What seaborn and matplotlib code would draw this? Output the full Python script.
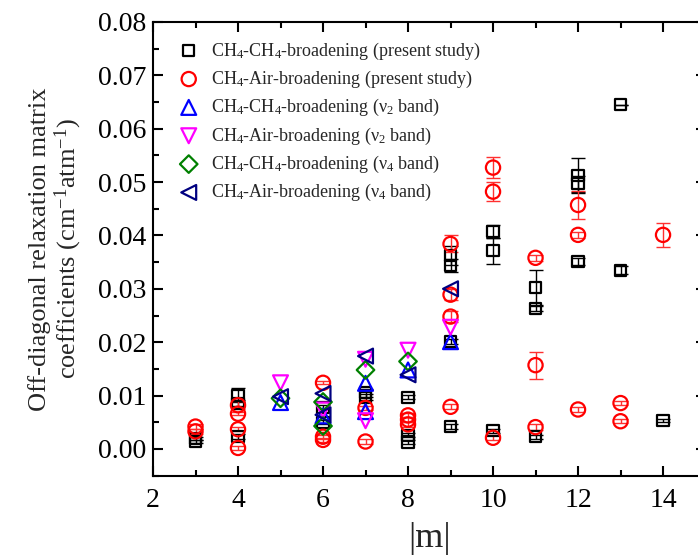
import matplotlib
matplotlib.use("Agg")
import matplotlib.pyplot as plt
import seaborn as sns
import numpy as np
import pandas as pd

# CH4-CH4 broadening, present study
self_m = [3, 3, 4, 4, 4, 6, 6, 7, 7, 8, 8, 8, 9, 9, 9, 9, 10, 10, 10, 11, 11, 11, 12, 12, 12, 13, 13, 14]
self_w = [0.0020, 0.0014, 0.0101, 0.0086, 0.0024, 0.0078, 0.0050, 0.0105, 0.0097,
          0.0097, 0.0026, 0.0013, 0.0362, 0.0343, 0.0201, 0.0042, 0.0407, 0.0371,
          0.0034, 0.0302, 0.0263, 0.0023, 0.0512, 0.0497, 0.0351, 0.0645, 0.0335, 0.0054]
self_err = [0.0003, 0.0003, 0.0013, 0.0006, 0.0005, 0.0004, 0.0004, 0.0008, 0.0006,
            0.0004, 0.0004, 0.0004, 0.0018, 0.0012, 0.0005, 0.0005, 0.0012, 0.0024,
            0.0004, 0.0033, 0.0005, 0.0004, 0.0033, 0.0015, 0.0006, 0.0000, 0.0008, 0.0003]

# CH4-Air broadening, present study
air_m = [3, 3, 4, 4, 4, 4, 6, 6, 6, 7, 7, 8, 8, 8, 9, 9, 9, 9, 10, 10, 10, 11, 11, 11, 12, 12, 12, 13, 13, 14]
air_w = [0.0042, 0.0033, 0.0082, 0.0066, 0.0037, 0.0002, 0.0124, 0.0023, 0.0017,
         0.0077, 0.0014, 0.0063, 0.0055, 0.0046, 0.0384, 0.0289, 0.0248, 0.0079,
         0.0527, 0.0482, 0.0021, 0.0358, 0.0157, 0.0041, 0.0457, 0.0401, 0.0074,
         0.0086, 0.0052, 0.0401]
air_err = [0.0004, 0.0004, 0.0008, 0.0003, 0.0004, 0.0004, 0.0003, 0.0004, 0.0004,
           0.0004, 0.0004, 0.0004, 0.0004, 0.0004, 0.0016, 0.0010, 0.0010, 0.0005,
           0.0020, 0.0018, 0.0005, 0.0005, 0.0025, 0.0005, 0.0027, 0.0005, 0.0004,
           0.0004, 0.0004, 0.0022]

# Literature values: nu2 and nu4 bands
v2_self_m = [5, 6, 7, 7, 8, 9]
v2_self_w = [0.0087, 0.0062, 0.0123, 0.0070, 0.0148, 0.0201]
v2_air_m = [5, 6, 7, 7, 8, 9]
v2_air_w = [0.0124, 0.0073, 0.0168, 0.0053, 0.0185, 0.0228]
v4_self_m = [5, 6, 6, 7, 8]
v4_self_w = [0.0095, 0.0088, 0.0043, 0.0148, 0.0164]
v4_air_m = [5, 6, 6, 7, 8, 9]
v4_air_w = [0.0098, 0.0104, 0.0064, 0.0174, 0.0139, 0.0300]

labels = [
    r"CH$_4$-CH$_4$-broadening (present study)",
    r"CH$_4$-Air-broadening (present study)",
    r"CH$_4$-CH$_4$-broadening (ν$_2$ band)",
    r"CH$_4$-Air-broadening (ν$_2$ band)",
    r"CH$_4$-CH$_4$-broadening (ν$_4$ band)",
    r"CH$_4$-Air-broadening (ν$_4$ band)",
]

sns.set_theme(style="ticks")
plt.rcParams["font.family"] = ["Liberation Serif", "DejaVu Serif"]
plt.rcParams["mathtext.fontset"] = "custom"
plt.rcParams["mathtext.rm"] = "Liberation Serif"
plt.rcParams["mathtext.it"] = "Liberation Serif:italic"
plt.rcParams["mathtext.default"] = "regular"
plt.rcParams["axes.linewidth"] = 1.5

fig = plt.figure(figsize=(6.98, 5.58), dpi=100)
ax = fig.add_axes([0.2192, 0.1475, 0.7916, 0.8134])

# error bars for the present-study data
ax.errorbar(self_m, self_w, yerr=self_err, fmt="none", ecolor="black",
            elinewidth=1.0, capsize=5, capthick=1.0, zorder=2)
ax.errorbar(air_m, air_w, yerr=air_err, fmt="none", ecolor="#ff3030",
            elinewidth=1.0, capsize=5, capthick=1.0, zorder=2)

series = [
    (self_m, self_w, "s", 64, "black"),
    (air_m, air_w, "o", 105, "red"),
    (v2_self_m, v2_self_w, "^", 115, "#0000ff"),
    (v2_air_m, v2_air_w, "v", 115, "#ff00ff"),
    (v4_self_m, v4_self_w, "D", 80, "#008000"),
    (v4_air_m, v4_air_w, "<", 115, "#000080"),
]
for i, ((xs, ys, mk, size, col), lab) in enumerate(zip(series, labels)):
    df = pd.DataFrame({"m": xs, "w": ys})
    sns.scatterplot(data=df, x="m", y="w", marker=mk, s=size, ax=ax,
                    facecolors="none", edgecolor=col, linewidth=1.6,
                    label=lab, zorder=3 + i)

ax.set_xlim(2, 15)
ax.set_ylim(-0.005, 0.08)
ax.set_xticks(np.arange(2, 15, 2))
ax.set_xticks(np.arange(3, 15, 2), minor=True)
ax.set_yticks(np.arange(0, 0.0801, 0.01))
ax.set_yticks(np.arange(-0.005, 0.0801, 0.005), minor=True)
ax.yaxis.set_major_formatter(matplotlib.ticker.FormatStrFormatter("%.2f"))

ax.tick_params(which="both", direction="in", top=True, right=True,
               labelsize=20, width=1.5, colors="black")
ax.tick_params(which="major", length=7)
ax.tick_params(which="minor", length=4.5)
ax.tick_params(axis="x", pad=9)
ax.tick_params(axis="y", pad=5)
for sp in ax.spines.values():
    sp.set_visible(True)
    sp.set_color("black")

ax.set_xlabel("|m|", fontsize=26, labelpad=6)
ax.set_ylabel("Off-diagonal relaxation matrix\ncoefficients (cm$^{-1}$atm$^{-1}$)",
              fontsize=19, labelpad=10, linespacing=1.05)

leg = ax.legend(loc="upper left", bbox_to_anchor=(0.032, 0.975), frameon=False,
                fontsize=13, labelspacing=0.4, handlelength=1.2,
                handletextpad=0.65, borderaxespad=0.0)

fig.savefig("out.png", dpi=100)
